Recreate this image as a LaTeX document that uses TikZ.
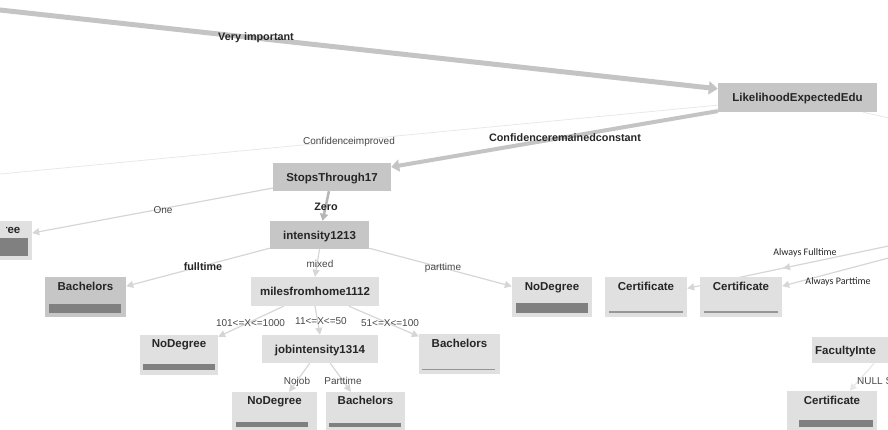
\documentclass[tikz,border=0pt]{standalone}
\usepackage{fontspec}
\setmainfont{Liberation Sans}
\newfontfamily\uifont{Carlito}
\usetikzlibrary{arrows.meta,calc,backgrounds,decorations.markings}

\definecolor{nodedark}{RGB}{198,198,198}
\definecolor{nodelight}{RGB}{224,224,225}
\definecolor{inktext}{RGB}{38,38,38}
\definecolor{barfill}{RGB}{128,128,128}
\definecolor{barline}{RGB}{150,150,150}
\definecolor{edgeheavy}{RGB}{196,196,196}
\definecolor{edgemid}{RGB}{182,182,182}
\definecolor{edgethin}{RGB}{214,214,214}
\definecolor{edgefaint}{RGB}{232,232,232}

\tikzset{
  split/.style={rectangle, inner sep=0pt, fill=nodedark, text=inktext,
    font=\fontsize{11.5}{13}\selectfont\bfseries, text height=8.3pt, text depth=0pt},
  splitlight/.style={split, fill=nodelight},
  leafbox/.style={rectangle, inner sep=0pt, fill=nodelight},
  leaftext/.style={inner sep=0pt, text=inktext,
    font=\fontsize{11.5}{13}\selectfont\bfseries, text height=8.3pt, text depth=0pt},
  lblbold/.style={inner sep=0pt, text=inktext,
    font=\fontsize{10.8}{12}\selectfont\bfseries, text height=7.8pt, text depth=0pt},
  lbl/.style={inner sep=0pt, text=inktext!85,
    font=\fontsize{10}{12}\selectfont, text height=7.2pt, text depth=0pt},
  lblui/.style={inner sep=0pt, text=inktext,
    font=\uifont\fontsize{10}{12}\selectfont, text height=7pt, text depth=0pt},
  heavy/.style={draw=edgeheavy, line width=5pt, -{Triangle[length=9pt,width=13pt]}},
  heavyb/.style={draw=edgeheavy, line width=4pt, -{Triangle[length=8pt,width=12pt]}},
  midlink/.style={draw=edgemid, line width=2.5pt, -{Triangle[length=7pt,width=8pt]}},
  link/.style={draw=edgethin, line width=1.2pt, -{Triangle[length=7pt,width=7pt]}},
  faint/.style={draw=edgefaint, line width=0.8pt},
  barfull/.style={fill=barfill},
  barthin/.style={fill=barline},
}

\begin{document}
\begin{tikzpicture}[x=1pt,y=-1pt]
\useasboundingbox (0,0) rectangle (888,429);
\clip (0,0) rectangle (888,429);

% ---------- split nodes ----------
\node[split, minimum width=159pt, minimum height=29pt] (lee) at (797.5,97.5) {LikelihoodExpectedEdu};
\node[split, minimum width=118pt, minimum height=28pt] (st) at (332,177) {StopsThrough17};
\node[split, minimum width=99pt, minimum height=28pt] (int) at (319.5,235) {intensity1213};
\node[splitlight, minimum width=128pt, minimum height=29pt] (miles) at (315,291.5) {milesfromhome1112};
\node[splitlight, minimum width=116pt, minimum height=28pt] (job) at (320,349) {jobintensity1314};
\node[leafbox, minimum width=148pt, minimum height=26pt] (fac) at (886,350) {};
\node[leaftext, anchor=west] (factxt) at (815,350) {FacultyInte};

% ---------- leaf nodes ----------
\node[leafbox, minimum width=80pt, minimum height=39pt] (ndL) at (-8,240.5) {};
\begin{scope}
  \clip (6,215) rectangle (40,265);
  \node[leaftext, anchor=east] (ndLtxt) at (20.5,229) {NoDegree};
\end{scope}
\fill[barfull] (-44,238) rectangle (28,256);

\node[leafbox, fill=nodedark, minimum width=81pt, minimum height=40pt] (bachL) at (85.5,297) {};
\node[leaftext] (bachLtxt) at (85.5,286) {Bachelors};
\fill[barfull] (49,304) rectangle (121,313);

\node[leafbox, minimum width=78pt, minimum height=40pt] (nd1) at (179,355) {};
\node[leaftext] (nd1txt) at (179,343.5) {NoDegree};
\fill[barfull] (143,364) rectangle (215,370);

\node[leafbox, minimum width=81pt, minimum height=40pt] (bachR) at (459.5,354) {};
\node[leaftext] (bachRtxt) at (459.5,343) {Bachelors};
\fill[barthin] (422,368.5) rectangle (495,370);

\node[leafbox, minimum width=85pt, minimum height=40pt] (ndB) at (274.5,412) {};
\node[leaftext] (ndBtxt) at (274.5,400) {NoDegree};
\fill[barfull] (236,422) rectangle (308,427);

\node[leafbox, minimum width=79pt, minimum height=40pt] (bachB) at (365.5,412) {};
\node[leaftext] (bachBtxt) at (365.5,400) {Bachelors};
\fill[barfull] (329,423) rectangle (401,427);

\node[leafbox, minimum width=80pt, minimum height=40pt] (ndP) at (552,297) {};
\node[leaftext] (ndPtxt) at (552,286) {NoDegree};
\fill[barfull] (516,303) rectangle (588,313);

\node[leafbox, minimum width=82pt, minimum height=40pt] (cert1) at (646,297) {};
\node[leaftext] (cert1txt) at (646,286) {Certificate};
\fill[barthin] (609,311) rectangle (683,312.5);

\node[leafbox, minimum width=82pt, minimum height=40pt] (cert2) at (741,297) {};
\node[leaftext] (cert2txt) at (741,286) {Certificate};
\fill[barthin] (704,311) rectangle (778,312.5);

\node[leafbox, minimum width=90pt, minimum height=39pt] (certR) at (832,410.5) {};
\node[leaftext] (certRtxt) at (832,400) {Certificate};
\fill[barfull] (799,420) rectangle (873,427);

% ---------- loose ends of edges leaving the view ----------
\coordinate (inL) at (-10,8.9);
\coordinate (impL) at (-10,175);
\coordinate (outR) at (898,120);
\coordinate (afR) at (898,244);
\coordinate (apR) at (898,255.5);

% ---------- connectors, kept behind the boxes ----------
\begin{pgfonlayer}{background}
\clip (0,0) rectangle (888,429);
\draw[heavy] (inL) -- (lee);
\draw[faint] (lee) -- (impL);
\draw[faint] (lee) -- (outR);
\draw[heavyb] (lee) -- (st);
\draw[link] (st) -- (ndL);
\draw[midlink] (st) -- (int);
\draw[link] (int) -- (bachL);
\draw[link] (int.south) -- (miles.north);
\draw[link] (int) -- (ndP);
\draw[link] (miles) -- (nd1);
\draw[link] (miles.south) -- (job.north);
\draw[link] (miles) -- (bachR);
\draw[link] (job) -- (ndB);
\draw[link] (job) -- (bachB);
\draw[link, postaction={decorate}, decoration={markings,
  mark=at position 117.5pt with {\arrow{Triangle[length=7pt,width=7pt]}}}] (afR) -- (cert1);
\draw[link] (apR) -- (cert2);
\draw[link, draw=edgefaint] (fac) -- (certR);
\end{pgfonlayer}

% ---------- connector labels ----------
\node[lblbold] (l1) at (256,37) {Very important};
\node[lbl] (l2) at (349,141) {Confidenceimproved};
\node[lblbold] (l3) at (565,138) {Confidenceremainedconstant};
\node[lbl] (l4) at (163,210) {One};
\node[lblbold] (l5) at (326,207) {Zero};
\node[lblbold] (l6) at (203,267) {fulltime};
\node[lbl] (l7) at (320,264) {mixed};
\node[lbl] (l8) at (443,267) {parttime};
\node[lbl] (l9) at (250.5,323) {101<=X<=1000};
\node[lbl] (l10) at (321,321) {11<=X<=50};
\node[lbl] (l11) at (390,323) {51<=X<=100};
\node[lbl] (l12) at (297,381) {Nojob};
\node[lbl] (l13) at (343,381) {Parttime};
\node[lblui] (l14) at (805,252) {Always Fulltime};
\node[lblui] (l15) at (838,281) {Always Parttime};
\node[lbl, anchor=west] (l16) at (857,381) {NULL S};
\end{tikzpicture}
\end{document}
